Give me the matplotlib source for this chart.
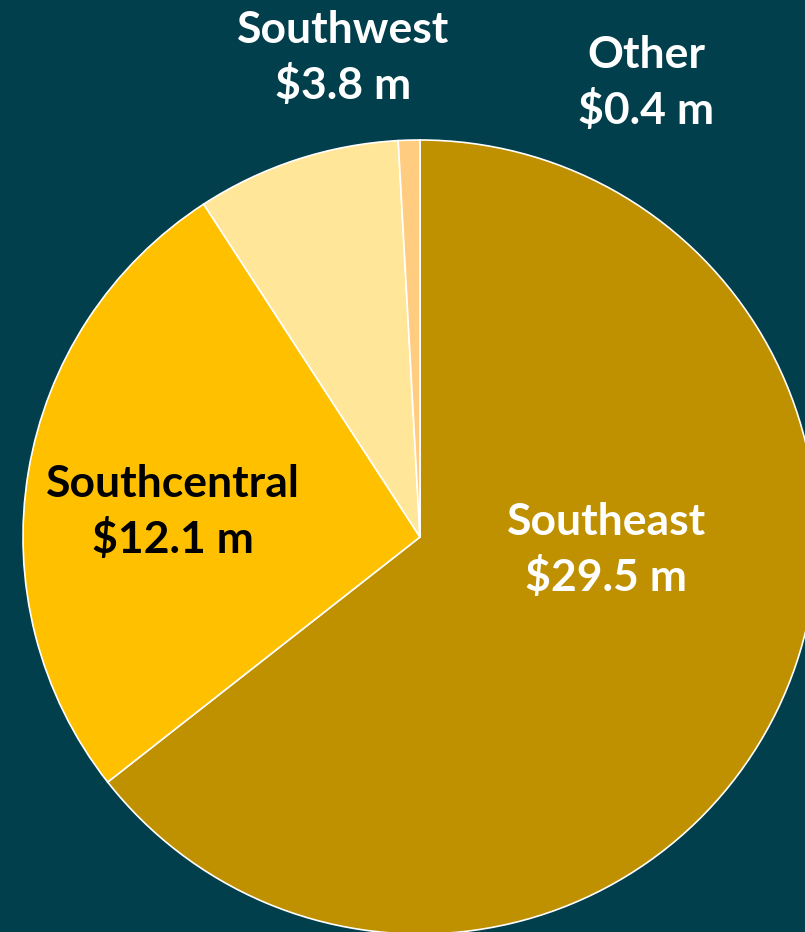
import matplotlib.pyplot as plt

# Datos del gráfico
regiones = ['Southeast', 'Southcentral', 'Southwest', 'Other']
valores = [29.5, 12.1, 3.8, 0.4]
colores = ['#BF9000', '#FFC000', '#FFE699', '#FFCC80']
colores_texto = ['white', 'black', 'white', 'white']

fondo = '#023F4C'

fig = plt.figure(figsize=(8.05, 9.32), dpi=100, facecolor=fondo)
ax = fig.add_axes([0, 0, 1, 1])
ax.set_facecolor(fondo)

# Pastel en coordenadas de pixel
centro = (420, 395)
radio = 397
ax.pie(valores, colors=colores, startangle=90, counterclock=False,
       center=centro, radius=radio, frame=True,
       wedgeprops={'edgecolor': 'white', 'linewidth': 1.2})
ax.set_xlim(0, 805)
ax.set_ylim(0, 932)
ax.axis('off')

# Etiquetas
posiciones = [(606, 382), (173, 420), (343, 874), (646, 849)]
fuente = {'family': 'Lato', 'weight': 'bold', 'size': 32}
for reg, val, pos, col in zip(regiones, valores, posiciones, colores_texto):
    ax.text(pos[0], pos[1], '{}\n${} m'.format(reg, val), color=col,
            ha='center', va='center', linespacing=1.4, fontdict=fuente)

fig.savefig('out.png', dpi=100, facecolor=fondo)
